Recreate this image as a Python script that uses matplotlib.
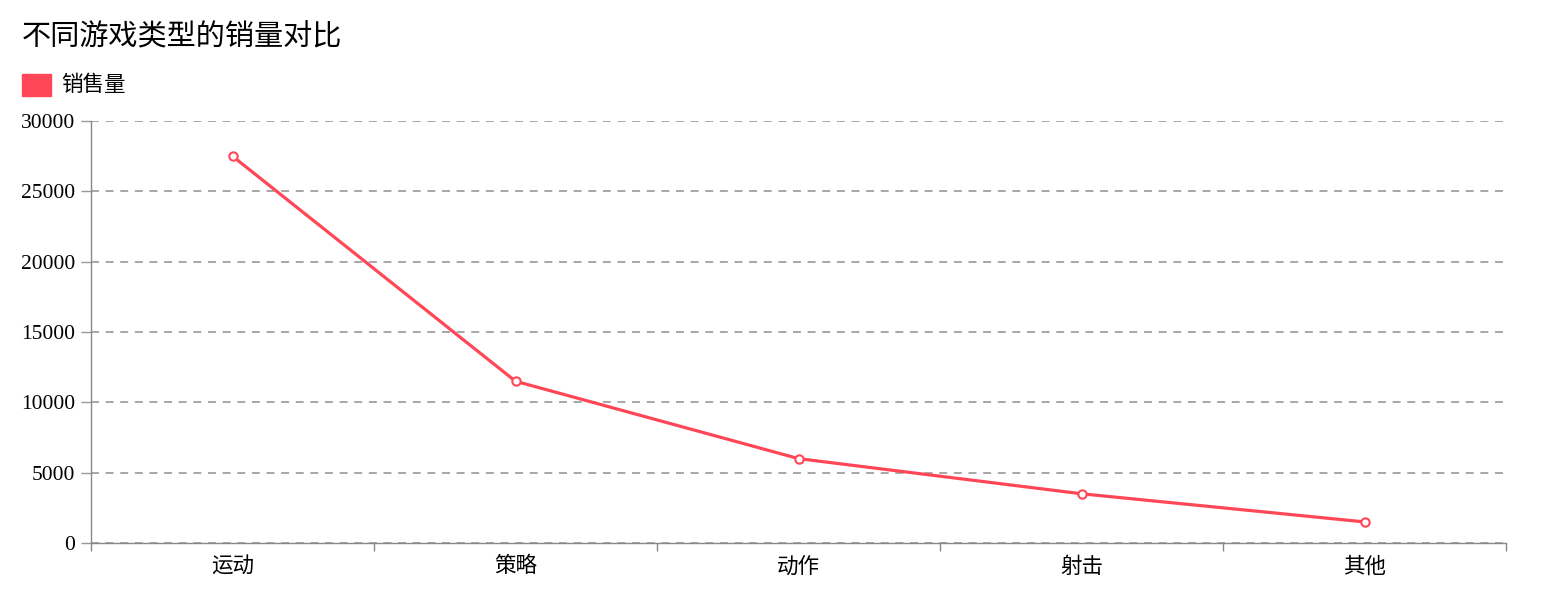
import numpy as np
import matplotlib
matplotlib.use('Agg')
import matplotlib.pyplot as plt
from matplotlib.patches import Rectangle

# data
categories = ['运动', '策略', '动作', '射击', '其他']
sales = [27500, 11500, 6000, 3500, 1500]
series_name = '销售量'
title = '不同游戏类型的销量对比'
yticks = [0, 5000, 10000, 15000, 20000, 25000, 30000]

cjk = ['Noto Sans CJK SC', 'DejaVu Sans']
num_font = ['Liberation Serif', 'DejaVu Serif']
red = '#ff4757'

fig = plt.figure(figsize=(15.42, 6.02), dpi=100)
W, H = 1542, 602
ax = fig.add_axes([91 / W, (H - 543) / H, (1506 - 91) / W, (543 - 121) / H])

x = np.arange(len(categories))
ax.plot(x, sales, color=red, lw=2.3, marker='o', ms=6, mfc='white',
        mec=red, mew=1.5, zorder=5, clip_on=False)

ax.set_xlim(-0.5, len(categories) - 0.5)
ax.set_ylim(0, 30000)

# y axis
ax.set_yticks(yticks)
ax.set_yticklabels([str(v) for v in yticks], fontfamily=num_font, fontsize=15.5)
ax.tick_params(axis='y', length=7.2, color='#999999', width=1, pad=4.3)
ax.yaxis.grid(True, ls=(0, (4.4, 3.7)), color='#a0a0a0', lw=1.3)

# x axis: ticks between categories, labels at centres
ax.set_xticks(np.arange(-0.5, len(categories), 1.0))
ax.set_xticklabels([])
ax.set_xticks(x, minor=True)
ax.set_xticklabels(categories, minor=True, fontfamily=cjk, fontsize=15.5)
ax.tick_params(axis='x', which='major', length=5.8, color='#888888', width=1)
ax.tick_params(axis='x', which='minor', length=0, pad=9)

for s in ['top', 'right']:
    ax.spines[s].set_visible(False)
for s in ['left', 'bottom']:
    ax.spines[s].set_color('#888888')
    ax.spines[s].set_linewidth(1)
ax.set_axisbelow(True)

# title and legend
fig.text(22 / W, 1 - 37 / H, title, fontfamily=cjk, fontsize=21,
         va='center', ha='left')
fig.patches.append(Rectangle((22 / W, 1 - 96 / H), 29 / W, 22 / H,
                             transform=fig.transFigure, color=red))
fig.text(61 / W, 1 - 85 / H, series_name, fontfamily=cjk, fontsize=15.5,
         va='center', ha='left')

fig.savefig('out.png', dpi=100)
